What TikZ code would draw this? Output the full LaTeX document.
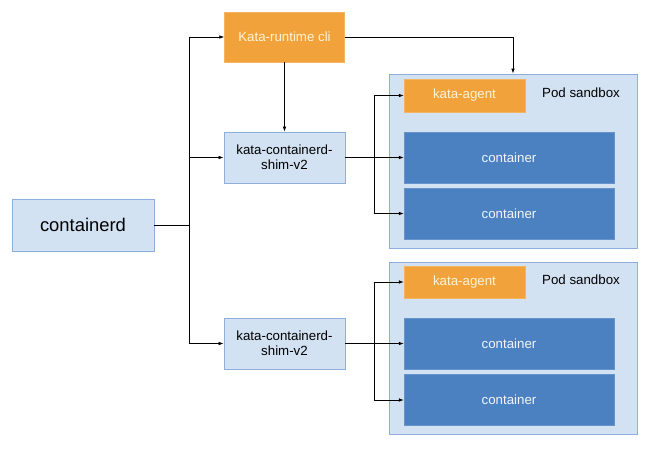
\documentclass[tikz,border=0pt]{standalone}
\usepackage{fontspec}
\setmainfont{Liberation Sans}
\usetikzlibrary{arrows.meta}
\definecolor{paleblue}{HTML}{D2E2F3}
\definecolor{edgeblue}{HTML}{8FAEDC}
\definecolor{kataorange}{HTML}{F1A23B}
\definecolor{boxblue}{HTML}{4B80C1}
\definecolor{cream}{HTML}{FFF4D6}
\begin{document}
\begin{tikzpicture}[x=1pt, y=-1pt, >={Latex[length=5pt,width=3.6pt]},
    lightbox/.style={draw=edgeblue, fill=paleblue, line width=0.8pt, inner sep=0pt, align=center, font=\fontsize{13.3}{15}\selectfont},
    agentbox/.style={fill=kataorange, draw=kataorange!80!white, text=cream, inner sep=0pt, font=\fontsize{13.3}{15}\selectfont},
    ctrbox/.style={fill=boxblue, draw=boxblue!85!white, text=white!92!boxblue, inner sep=0pt, minimum width=210pt, minimum height=51pt, font=\fontsize{13.3}{15}\selectfont},
    link/.style={line width=0.7pt}]
    \useasboundingbox (0,0) rectangle (653,448);

    % 左侧 containerd 与运行时
    \node[lightbox, minimum width=142pt, minimum height=52pt, font=\fontsize{18.4}{20}\selectfont] (containerd) at (83,225) {containerd};
    \node[agentbox, minimum width=120pt, minimum height=50pt] (runtime) at (284.5,37) {Kata-runtime cli};
    \node[lightbox, minimum width=121pt, minimum height=51pt] (shimA) at (284.5,157.5) {kata-containerd-\\shim-v2};
    \node[lightbox, minimum width=121pt, minimum height=51pt] (shimB) at (284.5,343.5) {kata-containerd-\\shim-v2};

    % 两个 Pod sandbox
    \node[lightbox, minimum width=248pt, minimum height=174pt] (sbA) at (513,161) {};
    \node[lightbox, minimum width=248pt, minimum height=172pt] (sbB) at (513,348) {};
    \node[font=\fontsize{13.3}{15}\selectfont] (sbAlabel) at (581,93) {Pod sandbox};
    \node[font=\fontsize{13.3}{15}\selectfont] (sbBlabel) at (581,280) {Pod sandbox};

    \node[agentbox, minimum width=121pt, minimum height=33pt] (agentA) at (464.5,95.5) {kata-agent};
    \node[ctrbox] (ctrA1) at (509,157.5) {container};
    \node[ctrbox] (ctrA2) at (509,213.5) {container};

    \node[agentbox, minimum width=121pt, minimum height=32pt] (agentB) at (464.5,282) {kata-agent};
    \node[ctrbox] (ctrB1) at (509,343.5) {container};
    \node[ctrbox] (ctrB2) at (509,400) {container};

    % 连线
    \coordinate (cbus) at (189,225);
    \draw[link] (containerd.east) -- (cbus);
    \draw[link, ->] (cbus) |- (runtime.west);
    \draw[link, ->] (cbus) |- (shimA.west);
    \draw[link, ->] (cbus) |- (shimB.west);
    \draw[link, ->] (runtime.south) -- (shimA.north);
    \draw[link, ->] (runtime.east) -| (sbA.north);

    \coordinate (busA) at (374,157.5);
    \draw[link] (shimA.east) -- (busA);
    \draw[link, ->] (busA) |- (agentA.west);
    \draw[link, ->] (busA) -- (ctrA1.west);
    \draw[link, ->] (busA) |- (ctrA2.west);

    \coordinate (busB) at (374,343.5);
    \draw[link] (shimB.east) -- (busB);
    \draw[link, ->] (busB) |- (agentB.west);
    \draw[link, ->] (busB) -- (ctrB1.west);
    \draw[link, ->] (busB) |- (ctrB2.west);
\end{tikzpicture}
\end{document}
